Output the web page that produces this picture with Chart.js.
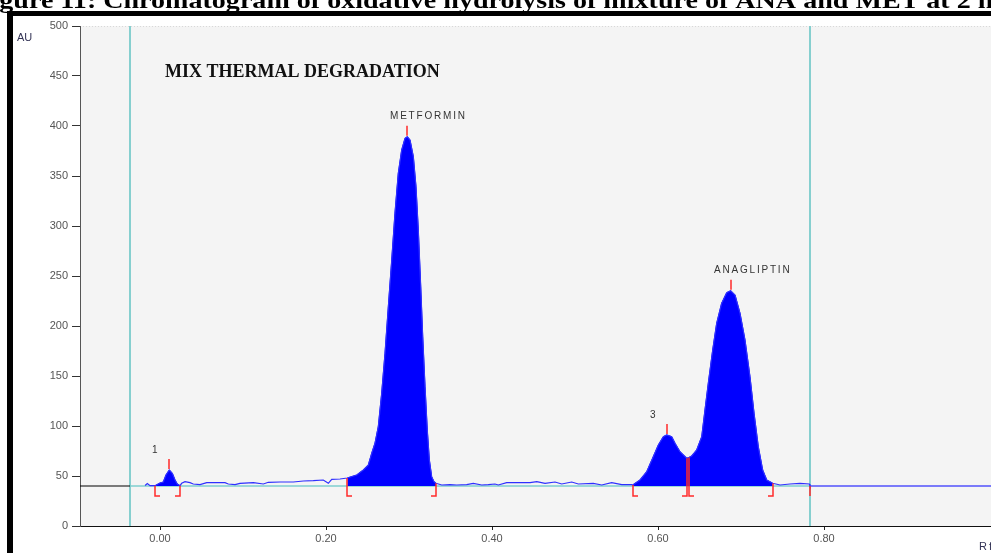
<!DOCTYPE html>
<html>
<head>
<meta charset="utf-8">
<script src="https://cdn.jsdelivr.net/npm/chart.js@4/dist/chart.umd.min.js"></script>
<style>
	body{margin:0;background:#fff;}
	#wrap{position:relative;width:991px;height:553px;overflow:hidden;}
</style>
</head>
<body>
<div id='wrap'><canvas id="chromCanvas" width="991" height="553"></canvas></div>

<script>
// Rf / AU values
var traceRf = [-0.018,-0.0153,-0.012,-0.006,0.000,0.004,0.0072,0.0112,0.0148,0.0181,0.0208,0.0241,
	0.0261,0.0301,0.0361,0.0401,0.0482,0.0563,0.0683,0.0783,0.0823,0.0904,0.0964,0.1124,0.1245,0.1305,
	0.1446,0.1606,0.1727,0.1847,0.1967,0.2028,0.2069,0.2169,0.2257,
	0.2370,0.2449,0.2510,0.2551,0.2590,0.2630,0.2671,0.2711,0.2751,0.2792,0.2831,0.2871,0.2912,0.2952,
	0.2980,0.3012,0.3052,0.3084,0.3112,0.3141,0.3165,0.3193,0.3220,0.3245,0.3273,0.3301,0.3325,
	0.3394,0.3494,0.3575,0.3695,0.3775,0.3876,0.3955,0.4036,0.4076,0.4177,0.4337,0.4458,0.4539,0.4639,
	0.4759,0.4840,0.4960,0.5040,0.5220,0.5322,0.5442,0.5563,0.5683,
	0.5695,0.5783,0.5864,0.5943,0.6004,0.6064,0.6105,0.6165,0.6205,0.6265,0.6346,0.6373,0.6406,0.6466,
	0.6527,0.6566,0.6606,0.6659,0.6707,0.6767,0.6828,0.6876,0.6928,0.6988,0.7048,0.7108,0.7157,0.7208,
	0.7261,0.7310,0.7382,0.7470,0.7590,0.7711,0.7823,0.7831];
var traceAU = [40.5,42.5,40.3,40.3,43,44,51,56,52.7,46,42,40.3,
	42.7,44.3,43.3,42,41.3,43.3,43.3,43.3,42,41.3,42.7,43.3,42,43.7,
	44,44,45,45.3,46,42.7,46.7,47,48,
	51,56,61,72.7,82.7,99.3,132.7,172.7,219.3,266,312.7,352.7,376,387.7,
	389.3,386,369.3,339.3,296,239.3,189.3,139.3,96,66,49.3,44.3,42.7,
	41,41.3,41,41.3,42.7,41,41.3,42,41,43.3,43.3,43.3,44.3,42.7,
	44,42,44,42,42.7,41,43.3,41.3,41.3,
	41,46,54.3,69.3,81,89.3,91,89.3,82.7,74.3,67.7,68.5,70,76,
	89.3,116,142.7,176,202.7,222.7,233.3,235.3,231,212.7,186,149.3,112.7,79.3,
	56,46,42.7,41,42,42.7,42,40];

var peakNames = ['1','METFORMIN','3','ANAGLIPTIN'];
var peakStart = [-0.006,0.2257,0.5695,0.6373];
var peakEnd   = [0.0241,0.3325,0.6346,0.7382];
var peakApex  = [0.0112,0.2980,0.6105,0.6876];

var fillRanges = [[-0.006,0.0241],[0.2257,0.3325],[0.5695,0.7382]];

var baselineAU = 40;
var windowStart = -0.0361;
var windowEnd = 0.7831;
var xMin = -0.0964, xMax = 1.0012;
var xTicks = [0.00,0.20,0.40,0.60,0.80];
var yTicks = [0,50,100,150,200,250,300,350,400,450,500];

var trace = [];
for (var i = 0; i < traceRf.length; i++) {
	trace.push({x:traceRf[i], y:traceAU[i]});
}
var auAt = function(rf){
	return traceAU[traceRf.indexOf(rf)];
};

var datasets = [{
	data: trace, borderColor:'#2f2fff', borderWidth:1.2, fill:false
}];
for (var i = 0; i < fillRanges.length; i++) {
	var r = fillRanges[i];
	datasets.push({
		data: trace.filter(function(p){ return p.x >= r[0] && p.x <= r[1]; }),
		borderColor:'#0000ff', borderWidth:1, backgroundColor:'#0000ff',
		fill:{value:baselineAU}
	});
}
datasets.push({data:[{x:windowEnd,y:baselineAU},{x:xMax,y:baselineAU}], borderColor:'#0000ff', borderWidth:1});
datasets.push({data:[{x:windowStart,y:baselineAU},{x:windowEnd,y:baselineAU}], borderColor:'#7fcfcf', borderWidth:1.5});
datasets.push({data:[{x:xMin,y:baselineAU},{x:windowStart,y:baselineAU}], borderColor:'#000', borderWidth:1});

var pagePlugin = {
	id:'page',
	beforeDraw: function(chart){
		var ctx = chart.ctx, a = chart.chartArea;
		ctx.save();
		ctx.fillStyle = '#f4f4f4';
		ctx.fillRect(a.left, a.top, a.right - a.left, a.bottom - a.top);
		ctx.strokeStyle = '#d8d8d8';
		ctx.setLineDash([1,2]);
		ctx.beginPath(); ctx.moveTo(a.left, a.top + 0.5); ctx.lineTo(a.right, a.top + 0.5); ctx.stroke();
		ctx.setLineDash([]);
		// caption cut by the page top, and the black frame
		ctx.fillStyle = '#000';
		ctx.save();
		ctx.scale(1.22, 1);
		ctx.font = 'bold 23px "Liberation Serif"';
		ctx.textBaseline = 'alphabetic';
		ctx.fillText('Figure 11: Chromatogram of oxidative hydrolysis of mixture of ANA and MET at 2 hrs', -21, 8);
		ctx.restore();
		ctx.fillRect(7, 11, 984, 5);
		ctx.fillRect(7, 11, 6, 542);
		ctx.restore();
	},
	beforeDatasetsDraw: function(chart){
		var ctx = chart.ctx, a = chart.chartArea, sx = chart.scales.x;
		ctx.save();
		ctx.strokeStyle = '#86cfcf';
		ctx.lineWidth = 2;
		[windowStart, windowEnd].forEach(function(v){
			var px = Math.round(sx.getPixelForValue(v));
			ctx.beginPath(); ctx.moveTo(px, a.top); ctx.lineTo(px, a.bottom); ctx.stroke();
		});
		ctx.restore();
	},
	afterDatasetsDraw: function(chart){
		var ctx = chart.ctx, sx = chart.scales.x, sy = chart.scales.y;
		var yLow = sy.getPixelForValue(baselineAU - 10);
		ctx.save();
		ctx.strokeStyle = '#ff2a2a';
		ctx.lineWidth = 1.5;
		for (var i = 0; i < peakNames.length; i++) {
			var x0 = Math.round(sx.getPixelForValue(peakStart[i]));
			ctx.beginPath();
			ctx.moveTo(x0, sy.getPixelForValue(auAt(peakStart[i])));
			ctx.lineTo(x0, yLow); ctx.lineTo(x0 + 5, yLow);
			ctx.stroke();
			var x1 = Math.round(sx.getPixelForValue(peakEnd[i]));
			ctx.beginPath();
			ctx.moveTo(x1, sy.getPixelForValue(auAt(peakEnd[i])));
			ctx.lineTo(x1, yLow); ctx.lineTo(x1 - 5, yLow);
			ctx.stroke();
			var xa = Math.round(sx.getPixelForValue(peakApex[i]));
			var ya = sy.getPixelForValue(auAt(peakApex[i]));
			ctx.beginPath(); ctx.moveTo(xa, ya - 1); ctx.lineTo(xa, ya - 11); ctx.stroke();
			ctx.fillStyle = '#333';
			ctx.font = '10px "Liberation Sans"';
			ctx.letterSpacing = '1.8px';
			ctx.textBaseline = 'middle';
			ctx.fillText(peakNames[i], xa - 17, ya - 20);
			ctx.letterSpacing = '0px';
		}
		var xw = Math.round(sx.getPixelForValue(windowEnd));
		ctx.beginPath();
		ctx.moveTo(xw, sy.getPixelForValue(baselineAU)); ctx.lineTo(xw, yLow);
		ctx.stroke();

		ctx.fillStyle = '#111';
		ctx.font = 'bold 18px "Liberation Serif"';
		ctx.textBaseline = 'middle';
		ctx.fillText('MIX THERMAL DEGRADATION', 165, 72);

		ctx.fillStyle = '#335';
		ctx.font = '11px "Liberation Sans"';
		ctx.fillText('AU', 17, 38);
		ctx.letterSpacing = '2px';
		ctx.fillText('Rf', 979, 547);
		ctx.restore();
	}
};

var chart = new Chart(document.getElementById('chromCanvas'), {
	type:'line',
	data:{datasets:datasets},
	plugins:[pagePlugin],
	options:{
		responsive:false,
		animation:false,
		layout:{padding:{top:26, left:0, right:0, bottom:0}},
		elements:{point:{radius:0}, line:{tension:0}},
		plugins:{legend:{display:false}, tooltip:{enabled:false}},
		scales:{
			x:{
				type:'linear', min:xMin, max:xMax,
				afterBuildTicks:function(s){ s.ticks = xTicks.map(function(v){ return {value:v}; }); },
				afterFit:function(s){ s.height = 27; },
				grid:{drawOnChartArea:false, tickLength:4, color:'#222'},
				border:{color:'#111', width:1},
				ticks:{padding:2, color:'#555', font:{size:11, family:'Liberation Sans'},
					callback:function(v){ return v.toFixed(2); }}
			},
			y:{
				min:0, max:500,
				afterBuildTicks:function(s){ s.ticks = yTicks.map(function(v){ return {value:v}; }); },
				afterFit:function(s){ s.width = 80; },
				grid:{drawOnChartArea:false, tickLength:8, color:'#333'},
				border:{color:'#555', width:1},
				ticks:{padding:4, color:'#555', font:{size:11, family:'Liberation Sans'}}
			}
		}
	}
});
</script>
</body>
</html>
